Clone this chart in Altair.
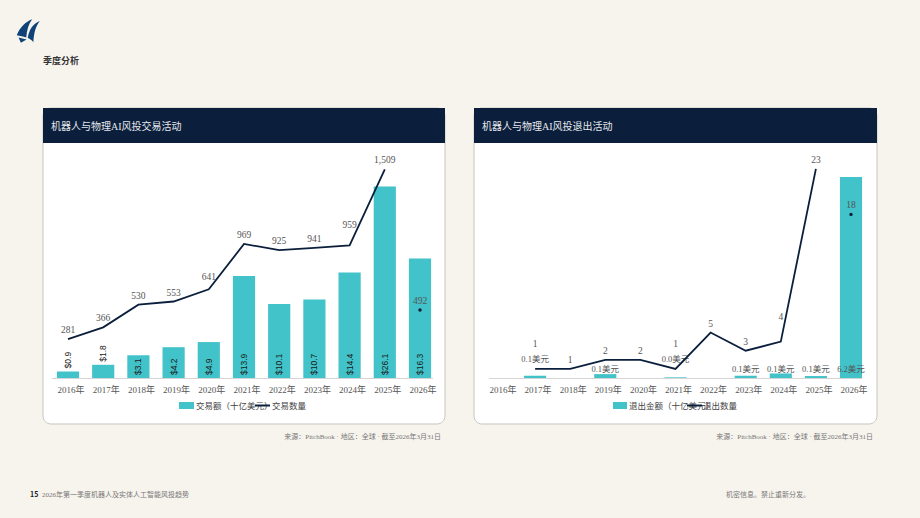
import altair as alt
import pandas as pd

# ---------------- data ----------------
years = ["2016年", "2017年", "2018年", "2019年", "2020年", "2021年",
         "2022年", "2023年", "2024年", "2025年", "2026年"]
deal_value = [0.9, 1.8, 3.1, 4.2, 4.9, 13.9, 10.1, 10.7, 14.4, 26.1, 16.3]
deal_count = [281, 366, 530, 553, 641, 969, 925, 941, 959, 1509, 492]
exit_value = [None, 0.07, None, 0.12, None, 0.02, None, 0.07, 0.14, 0.06, 6.2]
exit_count = [None, 1, 1, 2, 2, 1, 5, 3, 4, 23, 18]
partial_year = "2026年"

left_title = "机器人与物理AI风投交易活动"
right_title = "机器人与物理AI风投退出活动"
left_legend = ["交易额（十亿美元）", "交易数量"]
right_legend = ["退出金额（十亿美元）", "退出数量"]
source_text = "来源：PitchBook · 地区：全球 · 截至2026年3月31日"
section_text = "季度分析"
page_no = "15"
footer_left = "2026年第一季度机器人及实体人工智能风投趋势"
footer_right = "机密信息。禁止重新分发。"

left_df = pd.DataFrame({"year": years, "value": deal_value, "count": deal_count})
right_df = pd.DataFrame({"year": years, "value": exit_value, "count": exit_count})

# ---------------- styles ----------------
BG = "#f7f4ee"
NAVY = "#0b1f3c"
TEAL = "#42c2c9"
GRAY = "#555555"
SERIF = "Liberation Serif, Noto Sans CJK SC"
SANS = "Noto Sans CJK SC, Liberation Sans"
dummy = alt.Data(values=[{"a": 1}])


def txt(t, x, y, size, color, align="left", weight="normal", font=SERIF):
    return alt.Chart(dummy).mark_text(
        text=t, align=align, baseline="middle", fontSize=size, color=color,
        fontWeight=weight, font=font
    ).encode(x=alt.value(x), y=alt.value(y))


def rect(x1, x2, y1, y2, fill, stroke=None, radius=0):
    kw = dict(color=fill, cornerRadius=radius)
    if stroke:
        kw.update(stroke=stroke, strokeWidth=1)
    return alt.Chart(dummy).mark_rect(**kw).encode(
        x=alt.value(x1), x2=alt.value(x2), y=alt.value(y1), y2=alt.value(y2))


def hline(x1, x2, y, color, w=1):
    return alt.Chart(dummy).mark_rule(color=color, strokeWidth=w).encode(
        x=alt.value(x1), x2=alt.value(x2), y=alt.value(y))


def xscale(lo, hi):
    return alt.Scale(type="band", domain=years, range=[lo, hi],
                     paddingInner=0.37, paddingOuter=0.185)


def yscale(dmax, top, base=378):
    return alt.Scale(domain=[0, dmax], range=[base, top], nice=False, zero=True)


layers = []

# ---------------- page decoration ----------------
logo_path = ("M -0.95 0.35 C -0.7 -0.3 -0.2 -0.8 0.35 -1 C 0.05 -0.6 -0.1 -0.1 -0.15 0.55 "
             "C -0.4 0.45 -0.7 0.4 -0.95 0.35 Z "
             "M -0.02 0.6 C 0.08 -0.1 0.4 -0.6 1 -0.85 C 0.65 -0.4 0.5 0.15 0.45 0.95 "
             "C 0.3 0.75 0.12 0.65 -0.02 0.6 Z "
             "M -0.8 0.55 L -0.12 0.72 L -0.6 1 Z")
layers.append(alt.Chart(dummy).mark_point(
    shape=logo_path, filled=True, color="#0f4276", opacity=1, size=560, strokeWidth=0
).encode(x=alt.value(28), y=alt.value(31)))
layers.append(txt(section_text, 43, 61, 9, "#333333", weight="bold", font=SANS))

for (x1, x2, title) in [(43, 445, left_title), (474, 877, right_title)]:
    layers.append(rect(x1, x2, 108, 424, "#ffffff", stroke="#c8c5bf", radius=8))
    layers.append(rect(x1, x2, 108, 143, NAVY))
    layers.append(txt(title, x1 + 8, 127, 10, "#e6e8ec"))

layers.append(txt(source_text, 441, 437, 7, "#777777", align="right"))
layers.append(txt(source_text, 873, 437, 7, "#777777", align="right"))
layers.append(txt(page_no, 30, 495, 7, "#222222", weight="bold", font=SANS))
layers.append(txt(footer_left, 42, 495, 7, "#777777"))
layers.append(txt(footer_right, 726, 495, 7, "#777777"))

# axis base lines
layers.append(hline(52, 433, 378.5, "#d4d4d4"))
layers.append(hline(489, 862, 378.5, "#d4d4d4"))

# ---------------- left chart ----------------
LX = xscale(50.4, 437.6)
LYB = yscale(30, 158)
LYL = yscale(1600, 156.7)
L = alt.Chart(left_df)

layers.append(L.mark_bar(color=TEAL).encode(
    x=alt.X("year:N", scale=LX, axis=None),
    y=alt.Y("value:Q", scale=LYB, axis=None)))
layers.append(L.transform_calculate(
    lab="'$' + format(datum.value, '.1f')",
    ly="datum.value < 2.5 ? datum.value : 0"
).mark_text(angle=270, align="left", baseline="middle", dx=3, fontSize=8.5,
            font="Liberation Sans", color="#1a1a1a").encode(
    x=alt.X("year:N", scale=LX, axis=None),
    y=alt.Y("ly:Q", scale=LYB, axis=None),
    text="lab:N"))
layers.append(L.transform_filter(f"datum.year != '{partial_year}'").mark_line(
    color=NAVY, strokeWidth=1.8).encode(
    x=alt.X("year:N", scale=LX, axis=None),
    y=alt.Y("count:Q", scale=LYL, axis=None)))
layers.append(L.transform_filter(f"datum.year == '{partial_year}'").mark_point(
    filled=True, color=NAVY, opacity=1, size=12).encode(
    x=alt.X("year:N", scale=LX, axis=None),
    y=alt.Y("count:Q", scale=LYL, axis=None)))
# count labels: lifted further when the line climbs steeply right after the point
layers.append(L.transform_window(
    nxt="lead(count)", sort=[alt.SortField("year")]
).transform_calculate(
    lab="format(datum.count, ',')",
    cy="datum.count + (isValid(datum.nxt) && datum.year != '2025年' ? max(0, datum.nxt - datum.count - 250) * 0.27 : 0)"
).mark_text(baseline="middle", dy=-9, fontSize=9.5, font=SERIF, color=GRAY).encode(
    x=alt.X("year:N", scale=LX, axis=None),
    y=alt.Y("cy:Q", scale=LYL, axis=None),
    text="lab:N"))
layers.append(L.mark_text(baseline="middle", dx=3, fontSize=9, font=SERIF, color=GRAY).encode(
    x=alt.X("year:N", scale=LX, axis=None), y=alt.value(390), text="year:N"))

# legend left
layers.append(rect(179, 194, 402, 409, TEAL))
layers.append(txt(left_legend[0], 196, 405.5, 8.5, "#444444", font=SANS))
layers.append(hline(255, 270, 405.5, NAVY, 2))
layers.append(txt(left_legend[1], 272, 405.5, 8.5, "#444444", font=SANS))

# ---------------- right chart ----------------
RX = xscale(482.45, 868.55)
RYB = yscale(7, 151.2)
RYL = yscale(25, 150.75)
R = alt.Chart(right_df)

layers.append(R.transform_filter("isValid(datum.value)").mark_bar(color=TEAL).encode(
    x=alt.X("year:N", scale=RX, axis=None),
    y=alt.Y("value:Q", scale=RYB, axis=None)))
layers.append(R.transform_filter("isValid(datum.value)").transform_calculate(
    lab="format(datum.value, '.1f') + '美元'",
    ly="datum.count <= 1 ? 0.6 : 0.28"
).mark_text(baseline="middle", fontSize=8.5, font=SERIF, color=GRAY).encode(
    x=alt.X("year:N", scale=RX, axis=None),
    y=alt.Y("ly:Q", scale=RYB, axis=None),
    text="lab:N"))
layers.append(R.transform_filter(
    f"isValid(datum.count) && datum.year != '{partial_year}'").mark_line(
    color=NAVY, strokeWidth=1.8).encode(
    x=alt.X("year:N", scale=RX, axis=None),
    y=alt.Y("count:Q", scale=RYL, axis=None)))
layers.append(R.transform_filter(f"datum.year == '{partial_year}'").mark_point(
    filled=True, color=NAVY, opacity=1, size=12).encode(
    x=alt.X("year:N", scale=RX, axis=None),
    y=alt.Y("count:Q", scale=RYL, axis=None)))
layers.append(R.transform_filter("isValid(datum.count)").transform_window(
    nxt="lead(count)", sort=[alt.SortField("year")]
).transform_calculate(
    lab="format(datum.count, 'd')",
    cy="datum.count + ((isValid(datum.value) && datum.count <= 1) ? 1.8 : 0)"
       " + (isValid(datum.nxt) && datum.year != '2025年' ? max(0, datum.nxt - datum.count - 8) * 0.16 : 0)"
).mark_text(baseline="middle", dy=-9, fontSize=9.5, font=SERIF, color=GRAY).encode(
    x=alt.X("year:N", scale=RX, axis=None),
    y=alt.Y("cy:Q", scale=RYL, axis=None),
    text="lab:N"))
layers.append(R.mark_text(baseline="middle", dx=3, fontSize=9, font=SERIF, color=GRAY).encode(
    x=alt.X("year:N", scale=RX, axis=None), y=alt.value(390), text="year:N"))

# legend right
layers.append(rect(613, 627, 402, 409, TEAL))
layers.append(txt(right_legend[0], 629, 405.5, 8.5, "#444444", font=SANS))
layers.append(hline(687, 702, 405.5, NAVY, 2))
layers.append(txt(right_legend[1], 703, 405.5, 8.5, "#444444", font=SANS))

chart = alt.layer(*layers).resolve_scale(
    x="independent", y="independent"
).properties(
    width=920, height=518, background=BG, padding=0,
    autosize=alt.AutoSizeParams(type="none")
).configure_view(stroke=None)

chart.save("out.html", embed_options={"renderer": "svg", "actions": False})
